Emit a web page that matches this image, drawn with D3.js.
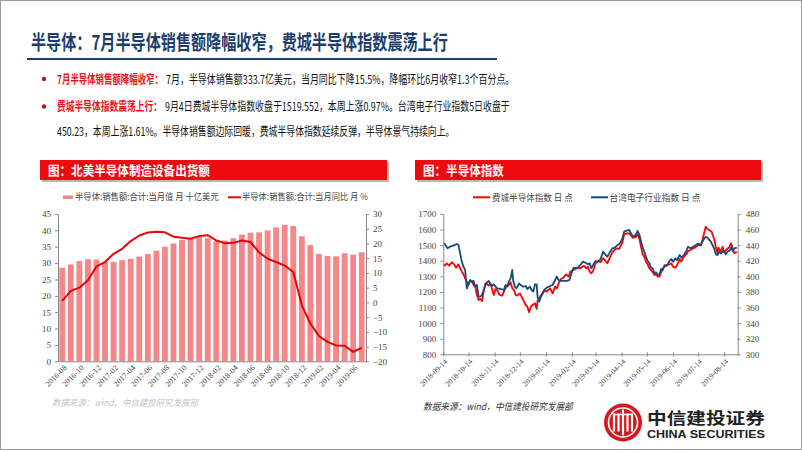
<!DOCTYPE html>
<html><head><meta charset="utf-8">
<script src="https://cdn.jsdelivr.net/npm/d3@7"></script>
<style>body{margin:0;background:#fff}svg{display:block}</style>
</head><body>
<svg id="c" width="802" height="451"></svg>
<script>
// ---------- DATA ----------
const months = ["2016-08","2016-09","2016-10","2016-11","2016-12","2017-01","2017-02","2017-03","2017-04","2017-05","2017-06","2017-07","2017-08","2017-09","2017-10","2017-11","2017-12","2018-01","2018-02","2018-03","2018-04","2018-05","2018-06","2018-07","2018-08","2018-09","2018-10","2018-11","2018-12","2019-01","2019-02","2019-03","2019-04","2019-05","2019-06","2019-07"];
const salesValue = [28.6,29.6,30.6,31.2,31.1,30.4,30.4,30.9,31.3,32.0,32.8,33.8,35.0,36.0,37.1,37.5,38.1,37.6,36.7,36.9,37.6,38.7,39.3,39.4,40.0,40.9,41.7,41.3,38.2,35.5,32.8,32.2,32.1,33.0,32.6,33.3];
const salesYoY = [0.5,3.9,5.0,7.5,12.2,13.7,16.5,18.2,20.8,22.7,23.7,24.0,23.8,22.3,21.9,21.6,22.5,22.8,21.0,20.1,20.2,21.0,20.5,17.0,14.8,13.7,12.5,10.3,-1.0,-7.2,-11.4,-13.4,-14.6,-14.7,-16.8,-15.4];
const leftYTicks = [0,5,10,15,20,25,30,35,40,45];
const rightYTicks = [-20,-15,-10,-5,0,5,10,15,20,25,30];

const soxDates = ["2018-09-14","2018-09-16","2018-09-18","2018-09-21","2018-09-24","2018-09-27","2018-09-29","2018-10-02","2018-10-04","2018-10-06","2018-10-08","2018-10-10","2018-10-12","2018-10-14","2018-10-16","2018-10-18","2018-10-20","2018-10-22","2018-10-24","2018-10-26","2018-10-28","2018-10-30","2018-11-01","2018-11-03","2018-11-05","2018-11-07","2018-11-09","2018-11-11","2018-11-13","2018-11-15","2018-11-17","2018-11-20","2018-11-23","2018-11-25","2018-11-28","2018-12-01","2018-12-03","2018-12-05","2018-12-07","2018-12-09","2018-12-11","2018-12-14","2018-12-16","2018-12-19","2018-12-21","2018-12-23","2018-12-25","2018-12-27","2018-12-29","2019-01-01","2019-01-03","2019-01-04","2019-01-07","2019-01-10","2019-01-13","2019-01-15","2019-01-19","2019-01-22","2019-01-25","2019-01-27","2019-01-30","2019-02-01","2019-02-04","2019-02-07","2019-02-10","2019-02-12","2019-02-16","2019-02-20","2019-02-24","2019-02-28","2019-03-03","2019-03-05","2019-03-07","2019-03-09","2019-03-11","2019-03-14","2019-03-17","2019-03-20","2019-03-23","2019-03-26","2019-03-28","2019-03-31","2019-04-03","2019-04-06","2019-04-09","2019-04-11","2019-04-13","2019-04-15","2019-04-17","2019-04-20","2019-04-23","2019-04-25","2019-04-27","2019-04-29","2019-05-01","2019-05-03","2019-05-05","2019-05-07","2019-05-09","2019-05-11","2019-05-13","2019-05-15","2019-05-17","2019-05-19","2019-05-21","2019-05-23","2019-05-25","2019-05-27","2019-05-29","2019-05-31","2019-06-02","2019-06-04","2019-06-07","2019-06-10","2019-06-12","2019-06-14","2019-06-17","2019-06-19","2019-06-22","2019-06-24","2019-06-27","2019-06-30","2019-07-02","2019-07-05","2019-07-08","2019-07-10","2019-07-14","2019-07-17","2019-07-19","2019-07-21","2019-07-23","2019-07-25","2019-07-27","2019-07-30","2019-08-02","2019-08-04","2019-08-06","2019-08-07","2019-08-10","2019-08-12","2019-08-14","2019-08-18","2019-08-20","2019-08-22","2019-08-24","2019-08-26","2019-08-29"];
const soxValues = [1377.1,1368.6,1383.5,1368.6,1390.0,1377.1,1355.7,1377.1,1351.5,1330.1,1313.0,1287.3,1265.9,1244.6,1270.2,1265.9,1244.6,1233.9,1180.4,1148.4,1154.8,1141.9,1201.8,1255.3,1248.8,1240.3,1255.3,1218.9,1180.4,1218.9,1212.5,1180.4,1176.1,1201.8,1233.9,1244.6,1261.7,1223.2,1212.5,1180.4,1176.1,1191.1,1169.7,1137.7,1116.3,1105.6,1069.2,1105.6,1116.3,1127.0,1090.6,1141.9,1169.7,1191.1,1212.5,1201.8,1223.2,1191.1,1233.9,1223.2,1265.9,1283.0,1291.6,1313.0,1298.0,1330.1,1340.8,1355.7,1351.5,1368.6,1351.5,1362.2,1330.1,1319.4,1334.4,1383.6,1398.6,1390.0,1415.7,1398.6,1383.6,1420.0,1454.1,1473.4,1479.8,1475.5,1496.9,1518.3,1569.6,1576.0,1576.0,1565.3,1548.2,1548.2,1554.6,1569.6,1543.9,1490.5,1441.3,1426.4,1394.3,1377.2,1351.5,1340.8,1325.9,1308.8,1313.0,1298.1,1298.1,1325.9,1351.5,1362.2,1372.9,1377.2,1383.6,1362.2,1355.8,1372.9,1411.4,1394.3,1426.4,1441.3,1462.7,1469.1,1479.8,1484.1,1501.2,1496.9,1533.3,1576.0,1618.8,1603.8,1597.4,1586.7,1539.7,1490.5,1447.7,1484.1,1458.4,1490.5,1454.1,1479.8,1484.1,1511.9,1479.8,1447.7,1458.4];

const twDates = ["2018-09-14","2018-09-16","2018-09-19","2018-09-22","2018-09-26","2018-09-30","2018-10-02","2018-10-04","2018-10-06","2018-10-08","2018-10-10","2018-10-11","2018-10-12","2018-10-14","2018-10-16","2018-10-18","2018-10-20","2018-10-22","2018-10-24","2018-10-26","2018-10-28","2018-10-30","2018-11-01","2018-11-03","2018-11-05","2018-11-07","2018-11-09","2018-11-11","2018-11-13","2018-11-17","2018-11-21","2018-11-25","2018-11-27","2018-11-29","2018-12-01","2018-12-03","2018-12-05","2018-12-06","2018-12-08","2018-12-10","2018-12-13","2018-12-15","2018-12-18","2018-12-21","2018-12-23","2018-12-26","2018-12-28","2018-12-30","2019-01-01","2019-01-03","2019-01-04","2019-01-06","2019-01-09","2019-01-12","2019-01-15","2019-01-19","2019-01-22","2019-01-25","2019-01-27","2019-01-29","2019-02-01","2019-02-04","2019-02-08","2019-02-11","2019-02-14","2019-02-16","2019-02-20","2019-02-24","2019-02-27","2019-03-01","2019-03-05","2019-03-07","2019-03-09","2019-03-11","2019-03-14","2019-03-17","2019-03-20","2019-03-23","2019-03-26","2019-03-28","2019-03-31","2019-04-03","2019-04-06","2019-04-09","2019-04-11","2019-04-13","2019-04-15","2019-04-17","2019-04-20","2019-04-23","2019-04-25","2019-04-27","2019-04-29","2019-05-01","2019-05-03","2019-05-05","2019-05-07","2019-05-09","2019-05-11","2019-05-13","2019-05-15","2019-05-17","2019-05-19","2019-05-21","2019-05-23","2019-05-25","2019-05-27","2019-05-29","2019-05-31","2019-06-02","2019-06-04","2019-06-07","2019-06-10","2019-06-12","2019-06-14","2019-06-17","2019-06-19","2019-06-22","2019-06-24","2019-06-27","2019-06-30","2019-07-02","2019-07-05","2019-07-08","2019-07-10","2019-07-14","2019-07-17","2019-07-19","2019-07-21","2019-07-23","2019-07-25","2019-07-29","2019-07-31","2019-08-02","2019-08-04","2019-08-06","2019-08-08","2019-08-10","2019-08-13","2019-08-16","2019-08-18","2019-08-21","2019-08-23","2019-08-24","2019-08-26","2019-08-29"];
const twValues = [442.4,441.1,436.0,438.1,439.4,441.5,440.2,429.5,418.9,412.4,408.2,395.3,384.6,391.0,395.3,393.2,394.1,386.8,388.9,374.0,374.0,376.1,382.5,388.9,392.3,394.1,389.8,388.1,389.8,384.6,383.8,382.5,388.9,386.8,393.2,397.5,408.2,395.3,386.8,384.6,391.0,388.9,386.8,387.6,383.8,386.8,382.5,380.4,389.8,389.8,374.0,367.5,376.1,382.5,385.5,387.6,388.9,395.3,399.6,395.3,394.1,394.1,394.1,395.3,406.0,411.2,410.3,414.6,418.9,418.0,415.4,416.7,410.3,414.5,419.7,418.8,422.2,431.7,427.4,425.2,430.8,435.9,436.8,440.2,441.1,444.5,448.8,457.3,458.6,459.5,455.2,452.2,450.9,453.9,458.2,453.9,445.3,436.8,431.7,425.2,419.7,416.7,411.1,410.3,403.9,405.1,401.7,402.6,409.4,408.1,414.5,413.7,419.7,422.2,418.8,423.1,421.0,427.4,424.0,427.4,432.5,438.1,435.9,438.1,439.4,442.3,440.2,444.5,447.9,450.9,449.6,444.5,440.2,435.9,428.2,427.4,431.7,429.5,432.5,428.2,431.7,433.8,438.1,432.5,435.9,436.8];
const idxTickDates = ["2018-09-14","2018-10-14","2018-11-14","2018-12-14","2019-01-14","2019-02-14","2019-03-14","2019-04-14","2019-05-14","2019-06-14","2019-07-14","2019-08-14"];
const soxTicks = [800,900,1000,1100,1200,1300,1400,1500,1600,1700];
const twTicks = [300,320,340,360,380,400,420,440,460,480];

// ---------- DRAW ----------
const svg = d3.select("#c");
const CJK = "'Noto Sans CJK SC','Noto Sans',sans-serif";
const SERIF = "'Liberation Serif','DejaVu Serif',serif";
const NAVY = "#1d3f6e";

svg.append("rect").attr("x",0.5).attr("y",0.5).attr("width",801).attr("height",449)
  .attr("fill","#fff").attr("stroke","#9a9a9a");

// text squeezed horizontally to a target width via a scale transform
function txt(x,y,s,opt){
  const t = svg.append("text").attr("x",0).attr("y",0).text(s)
    .attr("font-family",opt.font||CJK).attr("font-size",opt.size)
    .attr("fill",opt.fill||"#222").attr("font-weight",opt.weight||"normal");
  if(opt.italic) t.attr("font-style","italic");
  let sx = 1;
  if(opt.len){ const n = t.node().getComputedTextLength(); if(n>0) sx = opt.len/n; }
  t.attr("transform",`translate(${x},${y}) scale(${sx},1)`);
  return t;
}

// Title
txt(31,50,"半导体：7月半导体销售额降幅收窄，费城半导体指数震荡上行",{size:20,weight:"bold",fill:NAVY,len:417});
svg.append("line").attr("x1",27).attr("x2",497).attr("y1",59).attr("y2",59).attr("stroke",NAVY).attr("stroke-width",2);

// Bullets
[79,106.5].forEach(cy=>svg.append("circle").attr("cx",44).attr("cy",cy).attr("r",2.2).attr("fill","#c0141c"));
txt(57,84,"7月半导体销售额降幅收窄：",{size:12,weight:"bold",fill:"#e8141c",len:106});
txt(166,84,"7月，半导体销售额333.7亿美元，当月同比下降15.5%，降幅环比6月收窄1.3个百分点。",{size:12,fill:"#111",len:349});
txt(57,111,"费城半导体指数震荡上行：",{size:12,weight:"bold",fill:"#e8141c",len:105});
txt(165,111,"9月4日费城半导体指数收盘于1519.552，本周上涨0.97%。台湾电子行业指数5日收盘于",{size:12,fill:"#111",len:345});
txt(57,136,"450.23，本周上涨1.61%。半导体销售额边际回暖，费城半导体指数延续反弹，半导体景气持续向上。",{size:12,fill:"#111",len:398});

// Section headers
function header(x,w,label,len){
  svg.append("rect").attr("x",x+2).attr("y",162).attr("width",w).attr("height",20).attr("fill","#8a8a8a").attr("opacity",0.6);
  svg.append("rect").attr("x",x).attr("y",160).attr("width",w).attr("height",20).attr("fill","#ee0a0f");
  txt(x+8,175,label,{size:13,weight:"bold",fill:"#fff",len:len});
}
header(40,347,"图：北美半导体制造设备出货额",162);
header(415,346,"图：半导体指数",81);

// ---------- Left chart ----------
const L = {x0:58,x1:366,y0:361.3,y1:214};
const xb = d3.scaleBand().domain(months).range([L.x0,L.x1]).paddingInner(0.32).paddingOuter(0.16);
const yL = d3.scaleLinear().domain([0,45]).range([L.y0,L.y1]);
const yR = d3.scaleLinear().domain([-20,30]).range([L.y0,L.y1]);

// legend
svg.append("rect").attr("x",63).attr("y",195.5).attr("width",10).attr("height",3.5).attr("fill","#f4878a");
txt(75,200,"半导体:销售额:合计:当月值 月 十亿美元",{size:9,fill:"#444",len:144});
svg.append("line").attr("x1",228).attr("x2",241).attr("y1",197.3).attr("y2",197.3).attr("stroke","#e8000b").attr("stroke-width",2);
txt(242,200,"半导体:销售额:合计:当月同比 月 %",{size:9,fill:"#444",len:126});

svg.append("g").selectAll("rect").data(months).join("rect")
  .attr("x",d=>xb(d)).attr("width",xb.bandwidth())
  .attr("y",(d,i)=>yL(salesValue[i])).attr("height",(d,i)=>L.y0-yL(salesValue[i]))
  .attr("fill","#f4878a");

const lineL = d3.line().x((d,i)=>xb(months[i])+xb.bandwidth()/2).y(d=>yR(d));
svg.append("path").datum(salesYoY).attr("d",lineL).attr("fill","none").attr("stroke","#e8000b").attr("stroke-width",2).attr("stroke-linejoin","round");

function styleAxis(g){
  g.select(".domain").attr("stroke","#888");
  g.selectAll(".tick line").attr("stroke","#888");
  g.selectAll("text").attr("font-family",SERIF).attr("fill","#444");
}
const fmtD = d3.format("d");
const gLy = svg.append("g").attr("transform",`translate(${L.x0},0)`)
  .call(d3.axisLeft(yL).tickValues(leftYTicks).tickFormat(fmtD).tickSize(3).tickSizeOuter(0).tickPadding(4));
styleAxis(gLy); gLy.selectAll("text").attr("font-size",9);
const gRy = svg.append("g").attr("transform",`translate(${L.x1},0)`)
  .call(d3.axisRight(yR).tickValues(rightYTicks).tickFormat(fmtD).tickSize(3).tickSizeOuter(0).tickPadding(4));
styleAxis(gRy); gRy.selectAll("text").attr("font-size",9);
const gLx = svg.append("g").attr("transform",`translate(0,${L.y0})`)
  .call(d3.axisBottom(xb).tickValues(months.filter((d,i)=>i%2===0)).tickSize(0).tickSizeOuter(0));
styleAxis(gLx);
gLx.selectAll("text").attr("font-size",8).attr("text-anchor","end")
  .attr("transform","translate(3,5) rotate(-45)").attr("dy","0.35em").attr("y",0).attr("x",0);

txt(52,406,"数据来源：wind，中信建投研究发展部",{size:9,fill:"#c4c4c4",italic:true,len:146});

// ---------- Right chart ----------
const R = {x0:443.3,x1:737.7,y0:354.3,y1:214};
const parse = d3.timeParse("%Y-%m-%d");
const xt = d3.scaleTime().domain([parse("2018-09-14"),parse("2019-08-30")]).range([R.x0,R.x1]);
const ySox = d3.scaleLinear().domain([800,1700]).range([R.y0,R.y1]);
const yTw = d3.scaleLinear().domain([300,480]).range([R.y0,R.y1]);

svg.append("line").attr("x1",473).attr("x2",490).attr("y1",197.3).attr("y2",197.3).attr("stroke","#ff0000").attr("stroke-width",2);
txt(492,200.5,"费城半导体指数 日 点",{size:9,fill:"#444",len:81});
svg.append("line").attr("x1",591).attr("x2",608).attr("y1",197.3).attr("y2",197.3).attr("stroke","#1a4a7a").attr("stroke-width",2);
txt(609.5,200.5,"台湾电子行业指数 日 点",{size:9,fill:"#444",len:91});

const lineSox = d3.line().x((d,i)=>xt(parse(soxDates[i]))).y(d=>ySox(d));
const lineTw = d3.line().x((d,i)=>xt(parse(twDates[i]))).y(d=>yTw(d));
svg.append("path").datum(soxValues).attr("d",lineSox).attr("fill","none").attr("stroke","#ff0000").attr("stroke-width",1.8).attr("stroke-linejoin","round");
svg.append("path").datum(twValues).attr("d",lineTw).attr("fill","none").attr("stroke","#1a4a7a").attr("stroke-width",1.8).attr("stroke-linejoin","round");

const gSy = svg.append("g").attr("transform",`translate(${R.x0},0)`)
  .call(d3.axisLeft(ySox).tickValues(soxTicks).tickFormat(fmtD).tickSize(3).tickSizeOuter(0).tickPadding(4));
styleAxis(gSy); gSy.selectAll("text").attr("font-size",9);
const gTy = svg.append("g").attr("transform",`translate(${R.x1},0)`)
  .call(d3.axisRight(yTw).tickValues(twTicks).tickFormat(fmtD).tickSize(3).tickSizeOuter(0).tickPadding(5));
styleAxis(gTy); gTy.selectAll("text").attr("font-size",9);
const gTx = svg.append("g").attr("transform",`translate(0,${R.y0})`)
  .call(d3.axisBottom(xt).tickValues(idxTickDates.map(parse)).tickFormat(d3.timeFormat("%Y-%m-%d")).tickSize(2).tickSizeOuter(0));
styleAxis(gTx);
gTx.selectAll(".tick line").attr("y1",-2).attr("y2",2);
gTx.selectAll("text").attr("font-size",7.5).attr("text-anchor","end")
  .attr("transform","translate(2,6) rotate(-45)").attr("dy","0.35em").attr("y",0).attr("x",0);

txt(423,410,"数据来源：wind，中信建投研究发展部",{size:9.5,fill:"#333",italic:true,len:150});

// ---------- Logo ----------
const lg = svg.append("g").attr("transform","translate(623,422.5)");
lg.append("circle").attr("r",19).attr("fill","#d7161e");
lg.append("circle").attr("r",14.5).attr("fill","none").attr("stroke","#fff").attr("stroke-width",1.6);
[-9,-4.5,0,4.5,9].forEach((dx,i)=>{
  lg.append("rect").attr("x",dx-1.1).attr("y",i===2?-13:-9).attr("width",2.2).attr("height",i===2?26:18).attr("fill","#fff");
});
lg.append("line").attr("x1",-10).attr("x2",10).attr("y1",-8).attr("y2",-8).attr("stroke","#fff").attr("stroke-width",1.6);
txt(647,424,"中信建投证券",{size:16,weight:"bold",fill:"#222",len:118});
txt(647,438,"CHINA SECURITIES",{size:10,weight:"bold",fill:"#222",len:118,font:"'Liberation Sans',Arial,sans-serif"});
</script>
</body></html>
